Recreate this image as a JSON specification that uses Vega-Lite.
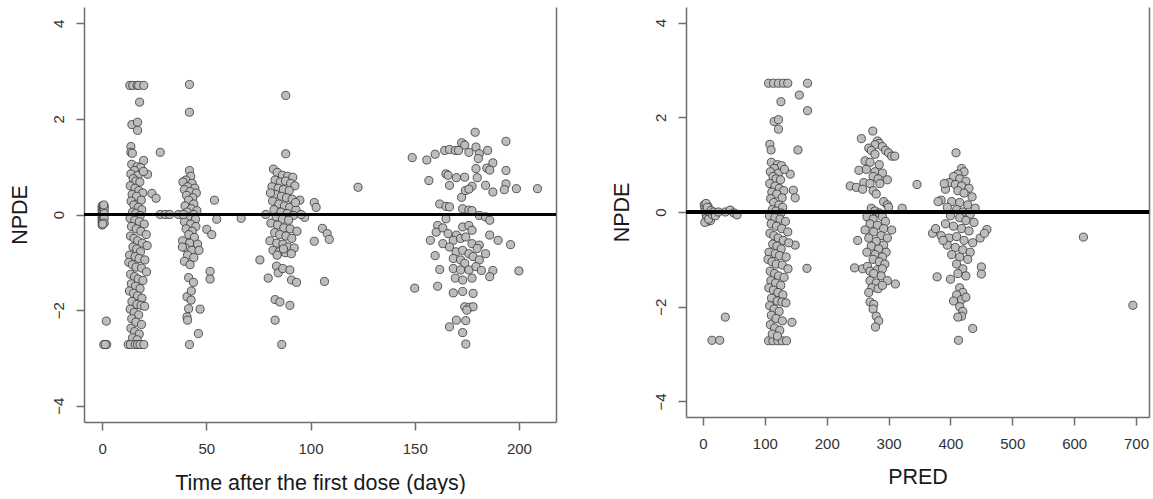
{
"$schema": "https://vega.github.io/schema/vega-lite/v6.json",
"background": "white",
"padding": {"left": 9, "top": 7, "right": 0, "bottom": 0},
"config": {
 "view": {"stroke": null},
 "font": "Liberation Sans",
 "axis": {"grid": false, "domainColor": "#6e6e6e", "domainWidth": 1.5, "tickColor": "#6e6e6e", "tickWidth": 1.5, "tickSize": 8, "labelFont": "Liberation Sans", "labelFontSize": 15, "labelColor": "#333333", "titleFont": "Liberation Sans", "titleFontSize": 21.5, "titleFontWeight": "normal", "titleColor": "#1a1a1a", "labelFlush": false}
},
"datasets": {
"left": [
{"t":0,"npde":0.18},{"t":0,"npde":0.12},{"t":0,"npde":0.06},{"t":0,"npde":0},{"t":0,"npde":-0.05},{"t":0,"npde":-0.1},{"t":0,"npde":-0.16},{"t":0,"npde":-0.22},{"t":0.5,"npde":0.15},{"t":0.5,"npde":0.08},{"t":0.5,"npde":-0.03},{"t":0.5,"npde":-0.12},{"t":1,"npde":0.17},{"t":1,"npde":0.1},{"t":1,"npde":0.02},{"t":1,"npde":-0.08},{"t":1,"npde":-0.18},{"t":0.3,"npde":-0.2},{"t":0.8,"npde":0.2},{"t":2,"npde":-2.23},{"t":0.8,"npde":-2.72},{"t":2.2,"npde":-2.72},{"t":1.5,"npde":-2.72},
{"t":13.3,"npde":2.7},{"t":14.7,"npde":2.7},{"t":16.8,"npde":2.7},{"t":17.5,"npde":2.7},{"t":20,"npde":2.7},{"t":18,"npde":2.35},{"t":14.3,"npde":1.88},{"t":17,"npde":1.93},{"t":17,"npde":1.76},{"t":13.8,"npde":1.42},{"t":13.8,"npde":1.3},{"t":14.5,"npde":1.28},{"t":19.9,"npde":1.13},{"t":21.8,"npde":0.84},{"t":23.9,"npde":0.44},{"t":25.9,"npde":0.34},{"t":27.9,"npde":1.3},{"t":27.9,"npde":0},{"t":30.3,"npde":0},{"t":32.4,"npde":0},{"t":36.7,"npde":0},
{"t":14.2,"npde":1.05},{"t":16.8,"npde":1.0},{"t":18.5,"npde":0.98},{"t":15.5,"npde":0.92},{"t":13.8,"npde":0.85},{"t":17.2,"npde":0.82},{"t":19.8,"npde":0.9},{"t":14.9,"npde":0.75},{"t":16.2,"npde":0.7},{"t":18.1,"npde":0.68},{"t":13.5,"npde":0.6},{"t":15.8,"npde":0.55},{"t":17.6,"npde":0.5},{"t":19.5,"npde":0.45},{"t":14.4,"npde":0.42},{"t":16.5,"npde":0.38},{"t":18.8,"npde":0.3},{"t":13.9,"npde":0.28},{"t":15.2,"npde":0.2},{"t":17.4,"npde":0.15},{"t":19.0,"npde":0.1},{"t":14.6,"npde":0.05},{"t":16.1,"npde":0.02},{"t":18.3,"npde":-0.02},{"t":13.4,"npde":-0.08},{"t":15.7,"npde":-0.12},{"t":17.9,"npde":-0.15},{"t":20.2,"npde":-0.2},{"t":14.1,"npde":-0.25},{"t":16.4,"npde":-0.3},{"t":18.6,"npde":-0.35},{"t":21.2,"npde":-0.42},{"t":13.6,"npde":-0.45},{"t":15.3,"npde":-0.5},{"t":17.1,"npde":-0.55},{"t":19.3,"npde":-0.6},{"t":21.6,"npde":-0.65},{"t":14.8,"npde":-0.68},{"t":16.6,"npde":-0.72},{"t":18.4,"npde":-0.78},{"t":13.2,"npde":-0.85},{"t":15.9,"npde":-0.88},{"t":17.7,"npde":-0.92},{"t":20.5,"npde":-0.95},{"t":12.8,"npde":-1.0},{"t":14.5,"npde":-1.05},{"t":16.3,"npde":-1.1},{"t":18.9,"npde":-1.12},{"t":21.3,"npde":-1.2},{"t":13.7,"npde":-1.25},{"t":15.6,"npde":-1.3},{"t":17.3,"npde":-1.35},{"t":19.6,"npde":-1.38},{"t":14.0,"npde":-1.45},{"t":16.0,"npde":-1.5},{"t":18.2,"npde":-1.55},{"t":13.1,"npde":-1.6},{"t":15.1,"npde":-1.65},{"t":17.0,"npde":-1.7},{"t":19.1,"npde":-1.75},{"t":14.3,"npde":-1.82},{"t":16.7,"npde":-1.88},{"t":18.7,"npde":-1.9},{"t":20.4,"npde":-1.92},{"t":13.5,"npde":-1.98},{"t":15.4,"npde":-2.05},{"t":17.5,"npde":-2.1},{"t":14.2,"npde":-2.18},{"t":16.2,"npde":-2.25},{"t":18.9,"npde":-2.3},{"t":13.8,"npde":-2.38},{"t":15.6,"npde":-2.45},{"t":17.8,"npde":-2.5},{"t":14.6,"npde":-2.58},{"t":16.8,"npde":-2.62},
{"t":12.5,"npde":-2.72},{"t":13.6,"npde":-2.72},{"t":15.9,"npde":-2.72},{"t":17.0,"npde":-2.72},{"t":18.2,"npde":-2.72},{"t":20.0,"npde":-2.72},
{"t":41.9,"npde":2.72},{"t":41.9,"npde":2.14},{"t":41.9,"npde":0.92},{"t":42.5,"npde":0.8},{"t":40.2,"npde":0.72},{"t":38.8,"npde":0.68},{"t":43.2,"npde":0.65},{"t":41.0,"npde":0.58},{"t":44.5,"npde":0.55},{"t":39.5,"npde":0.52},{"t":42.2,"npde":0.48},{"t":45.2,"npde":0.45},{"t":40.5,"npde":0.4},{"t":43.5,"npde":0.35},{"t":41.5,"npde":0.3},{"t":44.0,"npde":0.22},{"t":39.8,"npde":0.18},{"t":42.8,"npde":0.12},{"t":45.5,"npde":0.08},{"t":40.8,"npde":0.05},{"t":43.9,"npde":0.0},{"t":41.2,"npde":-0.05},{"t":44.8,"npde":-0.1},{"t":39.5,"npde":-0.15},{"t":42.5,"npde":-0.2},{"t":45.0,"npde":-0.25},{"t":40.3,"npde":-0.3},{"t":43.2,"npde":-0.35},{"t":41.6,"npde":-0.42},{"t":44.3,"npde":-0.48},{"t":38.6,"npde":-0.55},{"t":42.0,"npde":-0.6},{"t":45.8,"npde":-0.62},{"t":40.0,"npde":-0.7},{"t":43.0,"npde":-0.75},{"t":41.0,"npde":-0.85},{"t":44.0,"npde":-0.9},{"t":39.5,"npde":-0.98},{"t":42.2,"npde":-1.05},{"t":38.5,"npde":-0.68},{"t":46.5,"npde":-0.75},
{"t":41.5,"npde":-1.32},{"t":43.8,"npde":-1.42},{"t":40.7,"npde":-1.72},{"t":42.7,"npde":-1.79},{"t":41.5,"npde":-1.97},{"t":40.7,"npde":-2.14},{"t":41.0,"npde":-2.21},{"t":47.0,"npde":-1.98},{"t":46.2,"npde":-2.49},{"t":41.9,"npde":-2.72},{"t":42.8,"npde":-1.6},
{"t":53.9,"npde":0.3},{"t":55.0,"npde":-0.1},{"t":50.2,"npde":-0.31},{"t":52.6,"npde":-0.42},{"t":51.8,"npde":-1.19},{"t":51.8,"npde":-1.35},{"t":39.0,"npde":0},{"t":66.7,"npde":-0.08},
{"t":82.2,"npde":0.95},{"t":84.0,"npde":0.88},{"t":86.5,"npde":0.82},{"t":89.0,"npde":0.8},{"t":91.5,"npde":0.78},{"t":83.0,"npde":0.72},{"t":85.5,"npde":0.68},{"t":88.0,"npde":0.7},{"t":90.5,"npde":0.65},{"t":92.5,"npde":0.6},{"t":81.5,"npde":0.58},{"t":84.5,"npde":0.55},{"t":87.0,"npde":0.52},{"t":89.8,"npde":0.5},{"t":83.2,"npde":0.42},{"t":86.0,"npde":0.38},{"t":88.5,"npde":0.35},{"t":91.2,"npde":0.32},{"t":94.9,"npde":0.3},{"t":81.8,"npde":0.28},{"t":84.8,"npde":0.22},{"t":87.5,"npde":0.18},{"t":90.0,"npde":0.15},{"t":93.0,"npde":0.1},{"t":82.5,"npde":0.1},{"t":85.8,"npde":0.05},{"t":88.8,"npde":0.02},{"t":91.8,"npde":-0.02},{"t":78.5,"npde":0},{"t":83.5,"npde":-0.05},{"t":86.5,"npde":-0.1},{"t":89.5,"npde":-0.12},{"t":97.2,"npde":-0.06},{"t":81.0,"npde":-0.18},{"t":84.2,"npde":-0.22},{"t":87.2,"npde":-0.28},{"t":90.2,"npde":-0.3},{"t":93.5,"npde":-0.35},{"t":82.8,"npde":-0.38},{"t":85.2,"npde":-0.42},{"t":88.2,"npde":-0.45},{"t":91.0,"npde":-0.5},{"t":80.5,"npde":-0.55},{"t":83.8,"npde":-0.6},{"t":86.8,"npde":-0.62},{"t":89.2,"npde":-0.68},{"t":92.2,"npde":-0.7},{"t":82.0,"npde":-0.75},{"t":85.0,"npde":-0.78},{"t":88.0,"npde":-0.8},{"t":90.8,"npde":-0.82},{"t":84.0,"npde":-0.85},{"t":87.0,"npde":-0.72},{"t":75.7,"npde":-0.95},{"t":79.7,"npde":-1.33},{"t":83.7,"npde":-1.08},{"t":84.5,"npde":-1.22},{"t":86.7,"npde":-1.13},{"t":90.1,"npde":-1.16},{"t":90.9,"npde":-1.37},{"t":83.0,"npde":-1.78},{"t":85.3,"npde":-1.83},{"t":90.1,"npde":-1.9},{"t":93.3,"npde":-1.42},{"t":83.0,"npde":-2.21},{"t":86.2,"npde":-2.72},{"t":88.1,"npde":2.49},{"t":88.1,"npde":1.27},{"t":80.8,"npde":0.45},{"t":92.8,"npde":0.25},{"t":95.5,"npde":0.0},
{"t":101.8,"npde":0.25},{"t":102.7,"npde":0.15},{"t":101.8,"npde":-0.56},{"t":106.7,"npde":-1.4},{"t":105.7,"npde":-0.29},{"t":108,"npde":-0.4},{"t":109,"npde":-0.52},{"t":122.8,"npde":0.57},
{"t":179,"npde":1.72},{"t":193.8,"npde":1.53},{"t":173,"npde":1.48},{"t":172.5,"npde":1.5},{"t":174,"npde":1.45},{"t":179.4,"npde":1.41},{"t":185,"npde":1.34},{"t":164.4,"npde":1.34},{"t":166.7,"npde":1.36},{"t":169.5,"npde":1.34},{"t":171,"npde":1.34},{"t":176,"npde":1.3},{"t":181,"npde":1.27},{"t":159.8,"npde":1.26},{"t":155.8,"npde":1.14},{"t":148.8,"npde":1.19},{"t":180.5,"npde":1.17},{"t":187.5,"npde":1.08},{"t":179.4,"npde":0.96},{"t":193.8,"npde":0.92},{"t":184.6,"npde":0.97},{"t":186,"npde":0.93},{"t":165,"npde":0.85},{"t":166,"npde":0.82},{"t":170,"npde":0.77},{"t":174,"npde":0.78},{"t":156.8,"npde":0.71},{"t":166.7,"npde":0.61},{"t":180,"npde":0.77},{"t":177.5,"npde":0.59},{"t":184,"npde":0.61},{"t":187.5,"npde":0.47},{"t":193.8,"npde":0.64},{"t":193,"npde":0.52},{"t":198.8,"npde":0.54},{"t":208.9,"npde":0.54},{"t":172.5,"npde":0.36},{"t":174.3,"npde":0.5},{"t":176,"npde":0.53},{"t":162,"npde":0.22},{"t":165,"npde":0.17},{"t":166.7,"npde":0.16},{"t":173,"npde":0.12},{"t":176,"npde":0.09},{"t":177.5,"npde":0.08},
{"t":181,"npde":-0.02},{"t":184,"npde":-0.05},{"t":186,"npde":-0.12},{"t":165,"npde":-0.09},{"t":161,"npde":-0.23},{"t":160.3,"npde":-0.37},{"t":157.5,"npde":-0.54},{"t":163.5,"npde":-0.28},{"t":166,"npde":-0.4},{"t":170,"npde":-0.43},{"t":173,"npde":-0.26},{"t":176,"npde":-0.23},{"t":177.5,"npde":-0.33},{"t":168.5,"npde":-0.54},{"t":172,"npde":-0.5},{"t":174.5,"npde":-0.47},{"t":177.5,"npde":-0.61},{"t":181,"npde":-0.64},{"t":186,"npde":-0.43},{"t":190,"npde":-0.54},{"t":196,"npde":-0.63},{"t":163.5,"npde":-0.61},{"t":166.7,"npde":-0.68},{"t":169.8,"npde":-0.78},{"t":173,"npde":-0.75},{"t":176,"npde":-0.82},{"t":180,"npde":-0.71},{"t":184,"npde":-0.82},{"t":159.8,"npde":-0.86},{"t":168.5,"npde":-0.92},{"t":172,"npde":-0.95},{"t":174,"npde":-1.02},{"t":178,"npde":-0.88},{"t":181,"npde":-0.95},{"t":162,"npde":-1.15},{"t":168.5,"npde":-1.13},{"t":172,"npde":-1.16},{"t":176,"npde":-1.16},{"t":179.4,"npde":-1.09},{"t":182,"npde":-1.17},{"t":187.5,"npde":-1.17},{"t":186,"npde":-1.3},{"t":200,"npde":-1.18},{"t":169.5,"npde":-1.33},{"t":173,"npde":-1.37},{"t":177.5,"npde":-1.33},{"t":150,"npde":-1.54},{"t":161,"npde":-1.5},{"t":168.5,"npde":-1.64},{"t":173,"npde":-1.61},{"t":178,"npde":-1.65},{"t":174,"npde":-1.93},{"t":176.3,"npde":-1.94},{"t":178,"npde":-1.93},{"t":175,"npde":-2.0},{"t":170,"npde":-2.21},{"t":166.7,"npde":-2.35},{"t":174.5,"npde":-2.22},{"t":173,"npde":-2.47},{"t":174.5,"npde":-2.71}
],
"right": [
{"pred":2,"npde":0.15},{"pred":3,"npde":0.08},{"pred":4,"npde":0.02},{"pred":5,"npde":-0.05},{"pred":6,"npde":-0.12},{"pred":7,"npde":-0.2},{"pred":3,"npde":-0.22},{"pred":8,"npde":0.12},{"pred":9,"npde":0.05},{"pred":10,"npde":-0.02},{"pred":11,"npde":-0.1},{"pred":12,"npde":-0.18},{"pred":5,"npde":0.18},{"pred":7,"npde":0.1},{"pred":9,"npde":-0.15},{"pred":13,"npde":0.03},{"pred":15,"npde":-0.05},{"pred":17,"npde":0.0},{"pred":20,"npde":-0.08},{"pred":25,"npde":0.0},{"pred":36,"npde":0.0},{"pred":44,"npde":0.04},{"pred":50,"npde":-0.02},{"pred":55,"npde":-0.06},{"pred":14.5,"npde":-2.71},{"pred":27,"npde":-2.71},{"pred":36,"npde":-2.22},
{"pred":106,"npde":2.72},{"pred":114,"npde":2.72},{"pred":122,"npde":2.72},{"pred":130,"npde":2.72},{"pred":137,"npde":2.72},{"pred":169,"npde":2.72},{"pred":155.7,"npde":2.47},{"pred":169,"npde":2.14},{"pred":126,"npde":2.33},{"pred":115,"npde":1.91},{"pred":122,"npde":1.95},{"pred":122,"npde":1.75},{"pred":108,"npde":1.43},{"pred":110,"npde":1.31},{"pred":153.5,"npde":1.31},{"pred":141,"npde":0.8},{"pred":146,"npde":0.46},{"pred":149,"npde":0.3},{"pred":149,"npde":-0.7},{"pred":168,"npde":-1.19},{"pred":143.8,"npde":-2.33},
{"pred":106,"npde":-2.72},{"pred":113,"npde":-2.72},{"pred":121,"npde":-2.72},{"pred":128,"npde":-2.72},{"pred":135,"npde":-2.72},
{"pred":110.5,"npde":1.05},{"pred":120.3,"npde":1.0},{"pred":126.8,"npde":0.98},{"pred":115.4,"npde":0.92},{"pred":108.9,"npde":0.85},{"pred":121.9,"npde":0.82},{"pred":131.7,"npde":0.9},{"pred":113.1,"npde":0.75},{"pred":118.1,"npde":0.7},{"pred":125.3,"npde":0.68},{"pred":107.8,"npde":0.6},{"pred":116.5,"npde":0.55},{"pred":123.4,"npde":0.5},{"pred":130.6,"npde":0.45},{"pred":111.2,"npde":0.42},{"pred":119.2,"npde":0.38},{"pred":127.9,"npde":0.3},{"pred":109.3,"npde":0.28},{"pred":114.3,"npde":0.2},{"pred":122.6,"npde":0.15},{"pred":128.7,"npde":0.1},{"pred":112,"npde":0.05},{"pred":117.7,"npde":0.02},{"pred":126,"npde":-0.02},{"pred":107.4,"npde":-0.08},{"pred":116.2,"npde":-0.12},{"pred":124.5,"npde":-0.15},{"pred":133.3,"npde":-0.2},{"pred":110.1,"npde":-0.25},{"pred":118.8,"npde":-0.3},{"pred":127.2,"npde":-0.35},{"pred":137,"npde":-0.42},{"pred":108.2,"npde":-0.45},{"pred":114.6,"npde":-0.5},{"pred":121.5,"npde":-0.55},{"pred":129.8,"npde":-0.6},{"pred":138.6,"npde":-0.65},{"pred":112.7,"npde":-0.68},{"pred":119.6,"npde":-0.72},{"pred":126.4,"npde":-0.78},{"pred":106.7,"npde":-0.85},{"pred":116.9,"npde":-0.88},{"pred":123.8,"npde":-0.92},{"pred":134.4,"npde":-0.95},{"pred":105.1,"npde":-1.0},{"pred":111.6,"npde":-1.05},{"pred":118.4,"npde":-1.1},{"pred":128.3,"npde":-1.12},{"pred":137.4,"npde":-1.2},{"pred":108.6,"npde":-1.25},{"pred":115.8,"npde":-1.3},{"pred":122.2,"npde":-1.35},{"pred":131,"npde":-1.38},{"pred":109.7,"npde":-1.45},{"pred":117.3,"npde":-1.5},{"pred":125.7,"npde":-1.55},{"pred":106.3,"npde":-1.6},{"pred":113.9,"npde":-1.65},{"pred":121.1,"npde":-1.7},{"pred":129.1,"npde":-1.75},{"pred":110.8,"npde":-1.82},{"pred":120,"npde":-1.88},{"pred":127.6,"npde":-1.9},{"pred":134,"npde":-1.92},{"pred":107.8,"npde":-1.98},{"pred":115,"npde":-2.05},{"pred":123,"npde":-2.1},{"pred":110.5,"npde":-2.18},{"pred":118.1,"npde":-2.25},{"pred":128.3,"npde":-2.3},{"pred":108.9,"npde":-2.38},{"pred":115.8,"npde":-2.45},{"pred":124.1,"npde":-2.5},{"pred":112,"npde":-2.58},{"pred":120.3,"npde":-2.62},
{"pred":274.5,"npde":1.71},{"pred":256,"npde":1.55},{"pred":282,"npde":1.5},{"pred":285,"npde":1.45},{"pred":278,"npde":1.42},{"pred":290,"npde":1.38},{"pred":295,"npde":1.3},{"pred":268,"npde":1.35},{"pred":272,"npde":1.3},{"pred":300,"npde":1.25},{"pred":305,"npde":1.18},{"pred":310,"npde":1.18},{"pred":278,"npde":1.22},{"pred":262,"npde":1.08},{"pred":270,"npde":1.05},{"pred":285,"npde":1.0},{"pred":252,"npde":0.88},{"pred":264,"npde":0.9},{"pred":278,"npde":0.85},{"pred":290,"npde":0.82},{"pred":275,"npde":0.75},{"pred":283,"npde":0.7},{"pred":298,"npde":0.68},{"pred":260,"npde":0.62},{"pred":270,"npde":0.6},{"pred":286,"npde":0.6},{"pred":238,"npde":0.55},{"pred":248,"npde":0.52},{"pred":258,"npde":0.48},{"pred":275,"npde":0.45},{"pred":280,"npde":0.38},{"pred":292,"npde":0.22},{"pred":298,"npde":0.15},{"pred":300,"npde":0.1},{"pred":322,"npde":0.08},{"pred":346,"npde":0.58},{"pred":272,"npde":0.08},{"pred":278,"npde":0.02},{"pred":285,"npde":-0.02},{"pred":265,"npde":-0.1},{"pred":275,"npde":-0.15},{"pred":290,"npde":-0.1},{"pred":295,"npde":-0.2},{"pred":270,"npde":-0.25},{"pred":282,"npde":-0.28},{"pred":292,"npde":-0.35},{"pred":305,"npde":-0.38},{"pred":262,"npde":-0.38},{"pred":276,"npde":-0.42},{"pred":288,"npde":-0.5},{"pred":298,"npde":-0.55},{"pred":250,"npde":-0.6},{"pred":268,"npde":-0.55},{"pred":280,"npde":-0.62},{"pred":292,"npde":-0.7},{"pred":272,"npde":-0.72},{"pred":284,"npde":-0.78},{"pred":296,"npde":-0.85},{"pred":265,"npde":-0.85},{"pred":278,"npde":-0.9},{"pred":290,"npde":-0.95},{"pred":275,"npde":-1.0},{"pred":285,"npde":-1.05},{"pred":294,"npde":-1.1},{"pred":245,"npde":-1.18},{"pred":258,"npde":-1.2},{"pred":266,"npde":-1.15},{"pred":270,"npde":-1.25},{"pred":282,"npde":-1.22},{"pred":290,"npde":-1.2},{"pred":276,"npde":-1.3},{"pred":288,"npde":-1.35},{"pred":298,"npde":-1.45},{"pred":311,"npde":-1.52},{"pred":270,"npde":-1.45},{"pred":280,"npde":-1.5},{"pred":273,"npde":-1.6},{"pred":283,"npde":-1.62},{"pred":270,"npde":-1.9},{"pred":276,"npde":-1.95},{"pred":275,"npde":-2.05},{"pred":280,"npde":-2.2},{"pred":284,"npde":-2.3},{"pred":278.8,"npde":-2.43},{"pred":268,"npde":-1.7},{"pred":290,"npde":-1.55},
{"pred":409,"npde":1.25},{"pred":418,"npde":0.92},{"pred":422,"npde":0.85},{"pred":412,"npde":0.8},{"pred":405,"npde":0.75},{"pred":415,"npde":0.7},{"pred":425,"npde":0.65},{"pred":398,"npde":0.62},{"pred":408,"npde":0.58},{"pred":418,"npde":0.55},{"pred":430,"npde":0.5},{"pred":392,"npde":0.48},{"pred":412,"npde":0.45},{"pred":422,"npde":0.4},{"pred":435,"npde":0.32},{"pred":385,"npde":0.25},{"pred":402,"npde":0.22},{"pred":415,"npde":0.2},{"pred":428,"npde":0.15},{"pred":440,"npde":0.08},{"pred":395,"npde":0.1},{"pred":410,"npde":0.05},{"pred":420,"npde":0.0},{"pred":432,"npde":-0.05},{"pred":400,"npde":-0.08},{"pred":415,"npde":-0.12},{"pred":425,"npde":-0.18},{"pred":438,"npde":-0.22},{"pred":392,"npde":-0.25},{"pred":405,"npde":-0.3},{"pred":418,"npde":-0.35},{"pred":430,"npde":-0.4},{"pred":371,"npde":-0.45},{"pred":385,"npde":-0.5},{"pred":398,"npde":-0.55},{"pred":410,"npde":-0.52},{"pred":422,"npde":-0.6},{"pred":436,"npde":-0.65},{"pred":376,"npde":-0.35},{"pred":448,"npde":-0.55},{"pred":459,"npde":-0.37},{"pred":455,"npde":-0.45},{"pred":395,"npde":-0.7},{"pred":408,"npde":-0.75},{"pred":420,"npde":-0.8},{"pred":432,"npde":-0.85},{"pred":402,"npde":-0.9},{"pred":415,"npde":-0.95},{"pred":428,"npde":-1.0},{"pred":410,"npde":-1.1},{"pred":420,"npde":-1.2},{"pred":400,"npde":-1.42},{"pred":378.5,"npde":-1.37},{"pred":450,"npde":-1.16},{"pred":450,"npde":-1.31},{"pred":412,"npde":-1.3},{"pred":425,"npde":-1.35},{"pred":415,"npde":-1.6},{"pred":420,"npde":-1.7},{"pred":410,"npde":-1.75},{"pred":418,"npde":-1.85},{"pred":425,"npde":-1.8},{"pred":405,"npde":-1.88},{"pred":415,"npde":-2.0},{"pred":420,"npde":-2.1},{"pred":418,"npde":-2.2},{"pred":412,"npde":-2.22},{"pred":436,"npde":-2.46},{"pred":413,"npde":-2.71},{"pred":380,"npde":0.22},{"pred":388,"npde":-0.6},{"pred":390,"npde":0.6},
{"pred":615,"npde":-0.53},{"pred":695,"npde":-1.97}
]
},
"spacing": 53,
"hconcat": [
 {
  "width": 472, "height": 415,
  "data": {"name": "left"},
  "layer": [
   {"mark": {"type": "circle", "fill": "#bdbdbd", "stroke": "#333333", "strokeWidth": 0.8, "size": 66, "opacity": 1},
    "encoding": {
     "x": {"field": "t", "type": "quantitative", "scale": {"domain": [-8.7, 217.8], "nice": false, "zero": false}, "axis": {"values": [0,50,100,150,200], "title": "Time after the first dose (days)", "labelBaseline": "middle", "labelPadding": 18, "titleY": 61, "titleBaseline": "middle"}},
     "y": {"field": "npde", "type": "quantitative", "scale": {"domain": [-4.34, 4.34], "nice": false, "zero": false}, "axis": {"values": [-4,-2,0,2,4], "title": "NPDE", "labelAngle": -90, "labelAlign": "center", "labelBaseline": "middle", "labelPadding": 18, "titleX": -63.5, "titleBaseline": "middle"}}
    }},
   {"mark": {"type": "rule", "color": "black", "strokeWidth": 3},
    "encoding": {"y": {"datum": 0, "type": "quantitative", "axis": {"orient": "right", "labels": false, "ticks": false, "title": null}}}}
  ],
  "resolve": {"axis": {"y": "independent"}}
 },
 {
  "width": 463, "height": 410,
  "data": {"name": "right"},
  "layer": [
   {"mark": {"type": "circle", "fill": "#bdbdbd", "stroke": "#333333", "strokeWidth": 0.8, "size": 66, "opacity": 1},
    "encoding": {
     "x": {"field": "pred", "type": "quantitative", "scale": {"domain": [-27.5, 721], "nice": false, "zero": false}, "axis": {"values": [0,100,200,300,400,500,600,700], "title": "PRED", "labelBaseline": "middle", "labelPadding": 18, "titleY": 60, "titleBaseline": "middle"}},
     "y": {"field": "npde", "type": "quantitative", "scale": {"domain": [-4.33, 4.33], "nice": false, "zero": false}, "axis": {"values": [-4,-2,0,2,4], "title": "NPDE", "labelAngle": -90, "labelAlign": "center", "labelBaseline": "middle", "labelPadding": 18, "titleX": -64, "titleBaseline": "middle"}}
    }},
   {"mark": {"type": "rule", "color": "black", "strokeWidth": 3},
    "encoding": {"y": {"datum": 0, "type": "quantitative", "axis": {"orient": "right", "labels": false, "ticks": false, "title": null}}}}
  ],
  "resolve": {"axis": {"y": "independent"}}
 }
]
}
